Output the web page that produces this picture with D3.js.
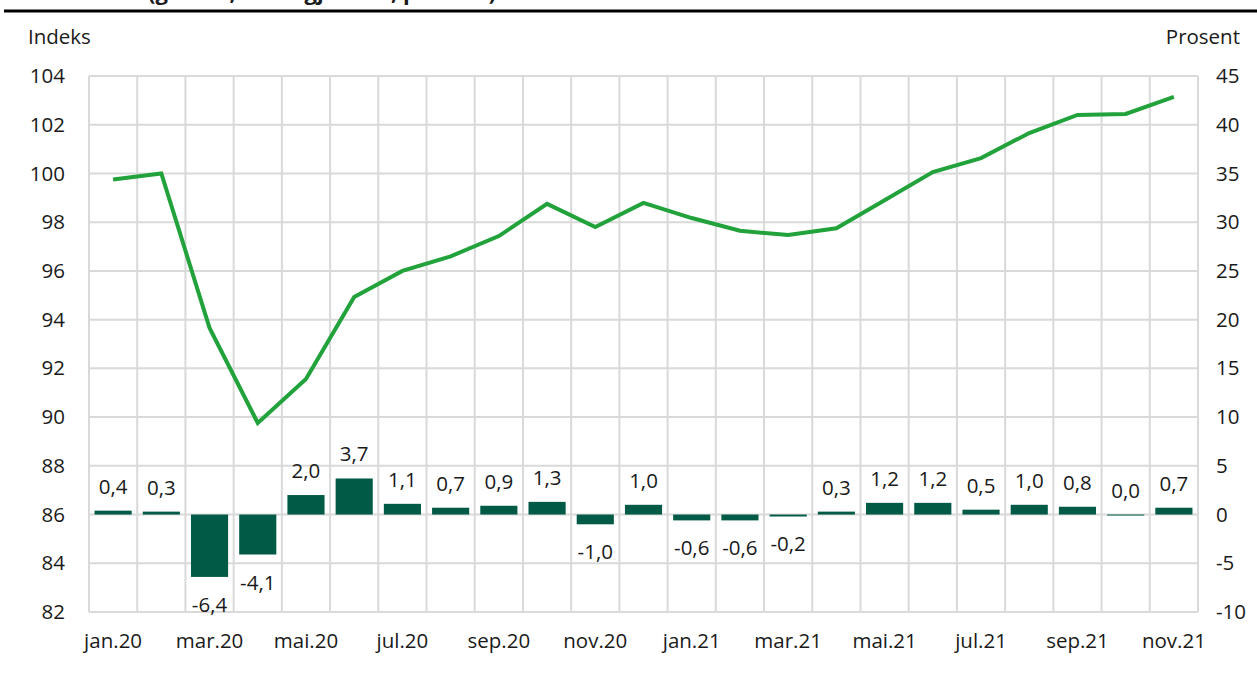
<!DOCTYPE html>
<html>
<head>
<meta charset="utf-8">
<style>
  body { margin: 0; background: #fff; }
  svg text { font-family: "Open Sans", sans-serif; fill: #1a1a1a; }
  .grid line { stroke: #d9d9d9; stroke-width: 2px; }
</style>
</head>
<body>
<svg id="chart" width="1257" height="677"></svg>
<script src="https://cdnjs.cloudflare.com/ajax/libs/d3/7.8.5/d3.min.js"></script>
<script>
// data
var months = ["jan.20","feb.20","mar.20","apr.20","mai.20","jun.20","jul.20","aug.20","sep.20","okt.20","nov.20","des.20",
              "jan.21","feb.21","mar.21","apr.21","mai.21","jun.21","jul.21","aug.21","sep.21","okt.21","nov.21"];
var indexValues = [99.75,100.0,93.66,89.76,91.56,94.93,96.0,96.6,97.43,98.75,97.8,98.79,
                   98.17,97.65,97.47,97.75,98.9,100.06,100.63,101.66,102.4,102.44,103.14];
var changeValues = [0.4,0.3,-6.4,-4.1,2.0,3.7,1.1,0.7,0.9,1.3,-1.0,1.0,
                    -0.6,-0.6,-0.2,0.3,1.2,1.2,0.5,1.0,0.8,0.0,0.7];
var leftTicks = [82,84,86,88,90,92,94,96,98,100,102,104];
var rightTicks = [-10,-5,0,5,10,15,20,25,30,35,40,45];

var svg = d3.select('#chart');
var plotLeft = 89, plotRight = 1198, plotTop = 76, plotBottom = 612;
var fontSize = '20.5px';

var x = d3.scaleBand().domain(months).range([plotLeft, plotRight]).paddingInner(0.23).paddingOuter(0.115);
var xGrid = d3.scaleLinear().domain([0, months.length]).range([plotLeft, plotRight]);
var yL = d3.scaleLinear().domain([82,104]).range([plotBottom, plotTop]);
var yR = d3.scaleLinear().domain([-10,45]).range([plotBottom, plotTop]);

// cut-off title and rule
svg.append('text')
  .attr('x', 148).attr('y', 0)
  .style('font-weight', 'bold').style('font-size', '22px')
  .text('(glattet, sesongjustert, prosent)');
svg.append('line')
  .attr('x1', 4).attr('x2', 1257).attr('y1', 11).attr('y2', 11)
  .style('stroke', '#000').style('stroke-width', 3);

// grid
var grid = svg.append('g').attr('class', 'grid');
grid.selectAll('.h').data(leftTicks).enter().append('line')
  .attr('x1', plotLeft).attr('x2', plotRight)
  .attr('y1', function(d) { return yL(d); }).attr('y2', function(d) { return yL(d); });
grid.selectAll('.v').data(d3.range(months.length + 1)).enter().append('line')
  .attr('x1', function(d) { return xGrid(d); }).attr('x2', function(d) { return xGrid(d); })
  .attr('y1', plotTop).attr('y2', plotBottom);

// axes
var leftAxis = svg.append('g')
  .attr('transform', 'translate(' + plotLeft + ',0)')
  .call(d3.axisLeft(yL).tickValues(leftTicks).tickSize(0).tickPadding(24));
var rightAxis = svg.append('g')
  .attr('transform', 'translate(' + plotRight + ',0)')
  .call(d3.axisRight(yR).tickValues(rightTicks).tickFormat(function(d) { return String(d); })
    .tickSize(0).tickPadding(18));
var bottomAxis = svg.append('g')
  .attr('transform', 'translate(0,' + plotBottom + ')')
  .call(d3.axisBottom(x).tickValues(months.filter(function(d, i) { return i % 2 === 0; })).tickSize(0).tickPadding(21));
[leftAxis, rightAxis, bottomAxis].forEach(function(a) {
  a.select('.domain').remove();
  a.selectAll('text').style('font-size', fontSize).style('fill', '#1a1a1a');
});

svg.append('text').attr('x', 28).attr('y', 44).style('font-size', fontSize).text('Indeks');
svg.append('text').attr('x', 1240).attr('y', 44).attr('text-anchor', 'end').style('font-size', fontSize).text('Prosent');

// bars
var fmt = function(v) { return v.toFixed(1).replace('.', ','); };
svg.selectAll('.bar').data(changeValues).enter().append('rect')
  .attr('x', function(d, i) { return x(months[i]); })
  .attr('width', x.bandwidth())
  .attr('y', function(d) { return yR(Math.max(0, d)); })
  .attr('height', function(d) { return Math.max(1, Math.abs(yR(d) - yR(0))); })
  .style('fill', '#015a45');

svg.selectAll('.lbl').data(changeValues).enter().append('text')
  .attr('x', function(d, i) { return x(months[i]) + x.bandwidth() / 2; })
  .attr('y', function(d) { return d >= 0 ? yR(d) - 17 : yR(d) + 35; })
  .attr('text-anchor', 'middle')
  .style('font-size', fontSize)
  .text(function(d) { return fmt(d); });

// line
var line = d3.line()
  .x(function(d, i) { return x(months[i]) + x.bandwidth() / 2; })
  .y(function(d) { return yL(d); });
svg.append('path').datum(indexValues)
  .attr('d', line)
  .style('fill', 'none')
  .style('stroke', '#21a23b')
  .style('stroke-width', 4);
</script>
</body>
</html>
